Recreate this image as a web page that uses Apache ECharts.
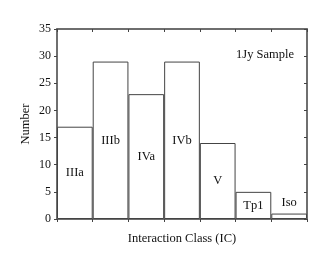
<!DOCTYPE html>
<html><head><meta charset="utf-8">
<script src="https://cdn.jsdelivr.net/npm/echarts@6/dist/echarts.min.js"></script>
<style>html,body{margin:0;padding:0;background:#fff}#c{width:327px;height:265px}</style>
</head><body><div id="c"></div>
<script>
const categories = ['IIIa','IIIb','IVa','IVb','V','Tp1','Iso'];
const counts = [17, 29, 23, 29, 14, 5, 1];
const yTicks = [0, 5, 10, 15, 20, 25, 30, 35];
const sampleLabel = '1Jy Sample';

const FONT = '"Liberation Serif", "DejaVu Serif", serif';
const chart = echarts.init(document.getElementById('c'), null, {renderer: 'canvas'});
const axisLineStyle = {color: '#666', width: 1.5};
const tickStyle = {color: '#444', width: 1};
chart.setOption({
  animation: false,
  title: {text: sampleLabel, right: 28, top: 43,
    textStyle: {fontFamily: FONT, fontSize: 12.5, fontWeight: 'normal', color: '#111'}},
  grid: {left: 57, right: 20, top: 29, bottom: 46, show: true,
    borderColor: '#666', borderWidth: 1.5, backgroundColor: 'transparent'},
  xAxis: [{
    type: 'category', data: categories, position: 'bottom',
    name: 'Interaction Class (IC)', nameLocation: 'middle', nameGap: 13,
    nameMoveOverlap: false,
    nameTextStyle: {fontFamily: FONT, fontSize: 12.5, color: '#111'},
    axisLine: {onZero: false, lineStyle: axisLineStyle},
    axisTick: {show: true, inside: false, length: 3, lineStyle: tickStyle},
    axisLabel: {show: false}, splitLine: {show: false}
  }, {
    type: 'category', data: categories, position: 'top',
    axisLine: {show: true, onZero: false, lineStyle: axisLineStyle},
    axisTick: {show: true, inside: true, length: 3, lineStyle: tickStyle},
    axisLabel: {show: false}, splitLine: {show: false}
  }],
  yAxis: [{
    type: 'value', min: yTicks[0], max: yTicks[yTicks.length-1], interval: 5, position: 'left',
    name: 'Number', nameLocation: 'middle', nameGap: 25,
    nameMoveOverlap: false,
    nameTextStyle: {fontFamily: FONT, fontSize: 12.5, color: '#111'},
    axisLine: {show: true, onZero: false, lineStyle: axisLineStyle},
    axisTick: {show: true, inside: false, length: 3, lineStyle: tickStyle},
    axisLabel: {margin: 6, fontFamily: FONT, fontSize: 12, color: '#111'},
    splitLine: {show: false}
  }, {
    type: 'value', min: yTicks[0], max: yTicks[yTicks.length-1], interval: 5, position: 'right',
    axisLine: {show: true, onZero: false, lineStyle: axisLineStyle},
    axisTick: {show: true, inside: true, length: 3, lineStyle: tickStyle},
    axisLabel: {show: false}, splitLine: {show: false}
  }],
  series: [{
    type: 'bar', xAxisIndex: 0, yAxisIndex: 0,
    barCategoryGap: '0%',
    data: counts.map((v, i) => ({
      value: v,
      label: {position: v < 3 ? 'top' : 'inside', distance: 4}
    })),
    itemStyle: {color: '#fff', borderColor: '#444', borderWidth: 1},
    label: {show: true, formatter: p => categories[p.dataIndex],
      fontFamily: FONT, fontSize: 12.5, color: '#111'}
  }, {
    type: 'line', xAxisIndex: 1, yAxisIndex: 1, silent: true,
    data: categories.map(() => null), showSymbol: false,
    lineStyle: {opacity: 0}
  }]
});
</script></body></html>
